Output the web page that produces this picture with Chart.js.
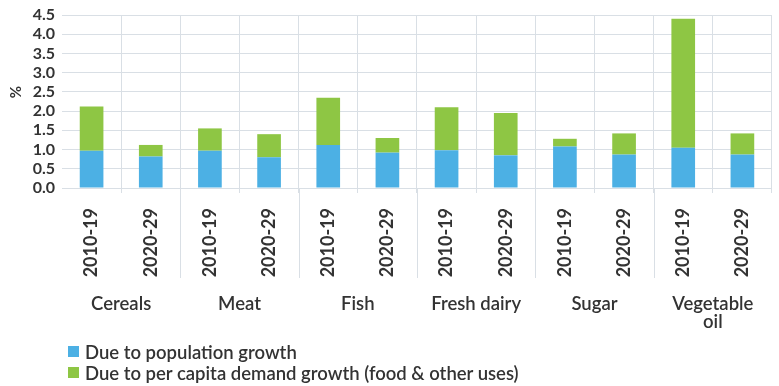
<!DOCTYPE html>
<html>
<head>
<meta charset="utf-8">
<script src="https://cdn.jsdelivr.net/npm/chart.js@4/dist/chart.umd.min.js"></script>
<style>
  html, body { margin: 0; padding: 0; background: #ffffff; }
  #wrap { position: relative; width: 779px; height: 386px; overflow: hidden; }
  #c { position: absolute; left: 0; top: 0; }
  .legend { position: absolute; left: 68px; font-family: Lato, sans-serif; font-weight: 600; font-size: 18.5px; color: #333; }
  .legend div { display: flex; align-items: center; height: 21px; white-space: nowrap; }
  .legend span.box { display: inline-block; width: 11px; height: 11px; margin-right: 6px; }
</style>
</head>
<body>
<div id="wrap">
  <canvas id="c" width="779" height="386"></canvas>
  <div class="legend" style="top:341px">
    <div><span class="box" style="background:#4cb0e4"></span>Due to population growth</div>
    <div><span class="box" style="background:#8ec644"></span>Due to per capita demand growth (food &amp; other uses)</div>
  </div>
</div>
<script>
// Commodity groups, each shown for two periods
const categories = ['Cereals', 'Meat', 'Fish', 'Fresh dairy', 'Sugar', ['Vegetable', 'oil']];
const periods = ['2010-19', '2020-29'];

// Annual growth of demand, % (one value per commodity/period bar)
const populationGrowth = [0.97, 0.82, 0.97, 0.80, 1.12, 0.92, 0.98, 0.85, 1.08, 0.87, 1.05, 0.87];
const perCapitaGrowth  = [1.15, 0.30, 0.58, 0.60, 1.23, 0.38, 1.12, 1.10, 0.20, 0.55, 3.35, 0.55];

const yTicks = [0, 0.5, 1, 1.5, 2, 2.5, 3, 3.5, 4, 4.5];

const barLabels = [];
categories.forEach(() => periods.forEach(p => barLabels.push(p)));

const BLUE = '#4cb0e4';
const GREEN = '#8ec644';
const GRID = '#d9dfe5';
const TEXT = '#333333';

// Group labels under each pair of bars, separators between groups, and the unit label
const groupPlugin = {
  id: 'groups',
  afterDraw(chart) {
    const ctx = chart.ctx;
    const x = chart.scales.x;
    const area = chart.chartArea;
    ctx.save();
    ctx.strokeStyle = GRID;
    ctx.lineWidth = 1;
    for (let g = 1; g < categories.length; g++) {
      const xp = Math.round((x.getPixelForValue(2 * g - 1) + x.getPixelForValue(2 * g)) / 2) + 0.5;
      ctx.beginPath();
      ctx.moveTo(xp, area.bottom);
      ctx.lineTo(xp, area.bottom + 90);
      ctx.stroke();
    }
    ctx.fillStyle = TEXT;
    ctx.font = '600 18.5px Lato, sans-serif';
    ctx.textAlign = 'center';
    ctx.textBaseline = 'middle';
    categories.forEach((name, g) => {
      const cx = (x.getPixelForValue(2 * g) + x.getPixelForValue(2 * g + 1)) / 2;
      const lines = Array.isArray(name) ? name : [name];
      lines.forEach((ln, k) => ctx.fillText(ln, cx, area.bottom + 116 + k * 18));
    });
    // unit label on the value axis
    ctx.translate(16, 92);
    ctx.rotate(-Math.PI / 2);
    ctx.font = 'bold 15px Lato, sans-serif';
    ctx.fillText('%', 0, 0);
    ctx.restore();
  }
};

new Chart(document.getElementById('c'), {
  type: 'bar',
  data: {
    labels: barLabels,
    datasets: [
      { label: 'Due to population growth', data: populationGrowth, backgroundColor: BLUE,
        barPercentage: 0.4, categoryPercentage: 1.0 },
      { label: 'Due to per capita demand growth (food & other uses)', data: perCapitaGrowth, backgroundColor: GREEN,
        barPercentage: 0.4, categoryPercentage: 1.0 }
    ]
  },
  options: {
    responsive: false,
    animation: false,
    devicePixelRatio: 1,
    layout: { padding: { top: 15, right: 0, left: 0, bottom: 0 } },
    plugins: { legend: { display: false }, tooltip: { enabled: false } },
    scales: {
      x: {
        stacked: true,
        grid: {
          offset: true,
          color: (c) => (c.index === 0 ? 'rgba(0,0,0,0)' : GRID),
          tickLength: 5,
          drawTicks: true
        },
        border: { display: true, color: GRID },
        ticks: {
          color: TEXT,
          font: { family: 'Lato', size: 18, weight: 'bold' },
          minRotation: 90,
          maxRotation: 90,
          padding: 15,
          autoSkip: false
        },
        afterFit(scale) { scale.height = 198; }
      },
      y: {
        stacked: true,
        min: 0,
        max: 4.5,
        afterBuildTicks(scale) { scale.ticks = yTicks.map(v => ({ value: v })); },
        grid: { color: GRID, drawTicks: false },
        border: { display: false },
        ticks: {
          color: TEXT,
          font: { family: 'Lato', size: 16, weight: 'bold', lineHeight: 1 },
          padding: 7,
          autoSkip: false,
          callback: (v) => Number(v).toFixed(1)
        },
        afterFit(scale) { scale.width = 62; }
      }
    }
  },
  plugins: [groupPlugin]
});
</script>
</body>
</html>
